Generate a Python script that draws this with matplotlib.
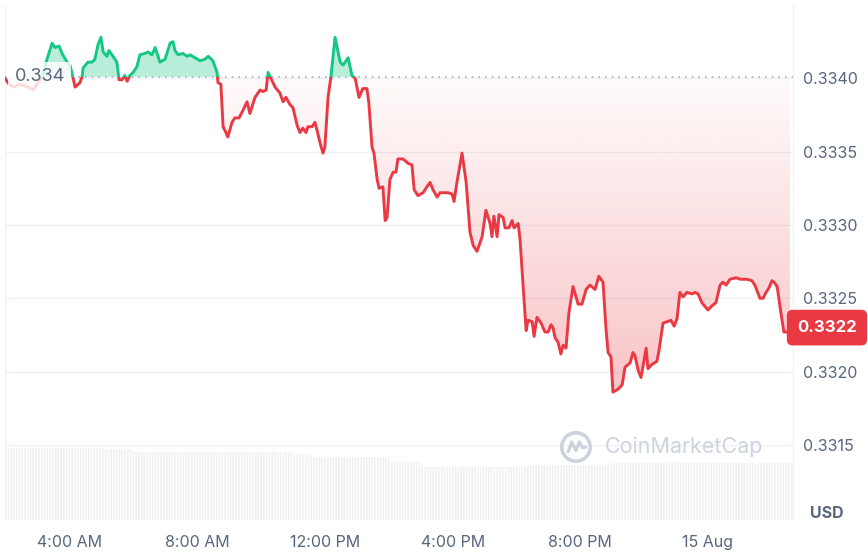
import numpy as np
import matplotlib.pyplot as plt
import matplotlib.transforms as mtransforms
from matplotlib.patches import Rectangle, Circle
from matplotlib.path import Path

# price samples (hours since 00:00 on 14 Aug, USD)
hours = [1.96, 2.09, 2.24, 2.43, 2.68, 2.84, 3.00, 3.15, 3.25, 3.44,
         3.53, 3.66, 3.75, 3.91, 4.00, 4.09, 4.16, 4.31, 4.38, 4.41,
         4.56, 4.69, 4.78, 4.88, 4.97, 5.04, 5.16, 5.22, 5.35, 5.47,
         5.54, 5.63, 5.72, 5.79, 5.88, 5.98, 6.10, 6.19, 6.35, 6.45,
         6.57, 6.67, 6.76, 6.82, 6.98, 7.14, 7.23, 7.29, 7.39, 7.54,
         7.67, 7.76, 7.92, 8.08, 8.23, 8.33, 8.48, 8.61, 8.64, 8.73,
         8.80, 8.89, 8.95, 9.08, 9.17, 9.30, 9.42, 9.55, 9.64, 9.80,
         9.96, 10.05, 10.15, 10.21, 10.30, 10.43, 10.58, 10.68, 10.77, 10.90,
         10.99, 11.12, 11.21, 11.30, 11.40, 11.46, 11.59, 11.68, 11.74, 11.84,
         11.93, 11.99, 12.09, 12.18, 12.31, 12.47, 12.56, 12.72, 12.84, 12.94,
         13.06, 13.18, 13.31, 13.37, 13.47, 13.53, 13.63, 13.69, 13.81, 13.88,
         13.94, 14.03, 14.13, 14.22, 14.28, 14.44, 14.60, 14.72, 14.79, 14.91,
         15.07, 15.19, 15.29, 15.38, 15.51, 15.60, 15.85, 15.98, 16.04, 16.13,
         16.29, 16.42, 16.54, 16.64, 16.76, 16.92, 17.04, 17.17, 17.23, 17.29,
         17.39, 17.45, 17.58, 17.64, 17.76, 17.86, 17.92, 18.05, 18.11, 18.20,
         18.30, 18.36, 18.49, 18.55, 18.64, 18.77, 18.89, 18.99, 19.08, 19.14,
         19.21, 19.30, 19.39, 19.46, 19.55, 19.64, 19.77, 19.93, 20.05, 20.18,
         20.30, 20.46, 20.58, 20.71, 20.80, 20.87, 20.96, 21.02, 21.18, 21.31,
         21.40, 21.56, 21.65, 21.71, 21.81, 21.90, 21.96, 22.06, 22.12, 22.25,
         22.40, 22.47, 22.59, 22.72, 22.84, 22.94, 23.03, 23.12, 23.22, 23.34,
         23.50, 23.59, 23.69, 23.81, 24.00, 24.13, 24.25, 24.38, 24.47,
         24.57, 24.69, 24.88, 25.01, 25.22, 25.38, 25.47, 25.63, 25.73, 25.82,
         25.91, 26.01, 26.07, 26.17, 26.26, 26.38, 26.51, 26.57]

prices = [0.33400, 0.33396, 0.33394, 0.33396, 0.33394, 0.33392, 0.33397, 0.33402, 0.33411, 0.33424,
          0.33421, 0.33422, 0.33417, 0.33411, 0.33409, 0.33401, 0.33394, 0.33397, 0.33401, 0.33407,
          0.33411, 0.33411, 0.33413, 0.33423, 0.33428, 0.33418, 0.33415, 0.33419, 0.33415, 0.33411,
          0.33399, 0.33399, 0.33402, 0.33398, 0.33402, 0.33404, 0.33408, 0.33416, 0.33417, 0.33418,
          0.33416, 0.33421, 0.33415, 0.33411, 0.33413, 0.33424, 0.33425, 0.33419, 0.33416, 0.33417,
          0.33415, 0.33416, 0.33414, 0.33412, 0.33413, 0.33415, 0.33412, 0.33404, 0.33397, 0.33396,
          0.33367, 0.33363, 0.33360, 0.33370, 0.33373, 0.33373, 0.33378, 0.33384, 0.33376, 0.33387,
          0.33392, 0.33391, 0.33392, 0.33404, 0.33400, 0.33394, 0.33390, 0.33384, 0.33387, 0.33382,
          0.33380, 0.33368, 0.33363, 0.33366, 0.33363, 0.33367, 0.33367, 0.33370, 0.33365, 0.33356,
          0.33349, 0.33353, 0.33387, 0.33401, 0.33428, 0.33411, 0.33409, 0.33414, 0.33402, 0.33400,
          0.33387, 0.33393, 0.33393, 0.33383, 0.33353, 0.33349, 0.33331, 0.33325, 0.33326, 0.33303,
          0.33305, 0.33331, 0.33336, 0.33336, 0.33345, 0.33345, 0.33342, 0.33341, 0.33324, 0.33320,
          0.33322, 0.33326, 0.33329, 0.33324, 0.33319, 0.33322, 0.33322, 0.33321, 0.33316, 0.33329,
          0.33349, 0.33329, 0.33295, 0.33286, 0.33282, 0.33292, 0.33310, 0.33301, 0.33292, 0.33306,
          0.33292, 0.33307, 0.33305, 0.33298, 0.33298, 0.33303, 0.33298, 0.33301, 0.33290, 0.33260,
          0.33228, 0.33235, 0.33234, 0.33224, 0.33237, 0.33233, 0.33227, 0.33227, 0.33232, 0.33230,
          0.33223, 0.33220, 0.33212, 0.33218, 0.33216, 0.33240, 0.33258, 0.33246, 0.33246, 0.33256,
          0.33259, 0.33256, 0.33265, 0.33261, 0.33230, 0.33213, 0.33210, 0.33186, 0.33188, 0.33191,
          0.33203, 0.33206, 0.33213, 0.33211, 0.33201, 0.33196, 0.33203, 0.33216, 0.33202, 0.33205,
          0.33207, 0.33215, 0.33233, 0.33234, 0.33235, 0.33231, 0.33236, 0.33254, 0.33251, 0.33254,
          0.33253, 0.33254, 0.33253, 0.33247, 0.33242, 0.33245, 0.33247, 0.33259, 0.33261,
          0.33259, 0.33263, 0.33264, 0.33263, 0.33263, 0.33262, 0.33259, 0.33250, 0.33250, 0.33254,
          0.33257, 0.33262, 0.33261, 0.33258, 0.33244, 0.33227, 0.33227, 0.33230]

open_price = 0.33401
open_label = "0.334"
last_label = "0.3322"

# 24h volume (millions), as steps
vol_edges = [1.96, 5.10, 5.98, 11.02, 11.56, 14.00, 15.04, 18.36, 20.96, 22.72, 23.22, 26.67]
vol_values = [36.1, 35.6, 34.1, 33.1, 31.6, 29.1, 26.6, 27.6, 28.6, 29.1, 28.6]

tick_hours = [4, 8, 12, 16, 20, 24]
tick_labels = ["4:00 AM", "8:00 AM", "12:00 PM", "4:00 PM", "8:00 PM", "15 Aug"]
price_ticks = [0.3315, 0.3320, 0.3325, 0.3330, 0.3335, 0.3340]

GREEN = "#16c784"
RED = "#ea3943"
GRAY = "#58667e"
GRID = "#eff2f5"

plt.rcParams['font.family'] = ['Inter', 'DejaVu Sans']
plt.rcParams['hatch.linewidth'] = 0.8
plt.rcParams['hatch.color'] = 'white'

W, H = 868, 553
fig = plt.figure(figsize=(W / 100, H / 100), dpi=100)


def box(x0, y0, x1, y1):
    return [x0 / W, 1 - y1 / H, (x1 - x0) / W, (y1 - y0) / H]


t = np.array(hours)
p = np.array(prices)
xlim = (1.963, 26.666)
ylim = (0.330988, 0.334500)

# volume strip
axv = fig.add_axes(box(5, 448, 793, 520))
axv.stairs(vol_values, vol_edges, fill=True, facecolor="#eff1f5",
           edgecolor="white", lw=0, hatch="||||||")
axv.set_xlim(*xlim)
axv.set_ylim(0, max(vol_values))
axv.axis("off")

ax = fig.add_axes(box(5, 5, 793, 520))
ax.patch.set_visible(False)

# green area above the open price
ax.fill_between(t, p, open_price, where=p >= open_price, interpolate=True,
                color=GREEN, alpha=0.3, lw=0, zorder=2)

# red area below, fading toward the open line
red_poly = ax.fill_between(t, p, open_price, where=p <= open_price,
                           interpolate=True, facecolor="none", lw=0)
clip = Path.make_compound_path(*red_poly.get_paths())
grad = np.zeros((256, 1, 4))
grad[..., :3] = np.array([234, 57, 67]) / 255
grad[:, 0, 3] = np.linspace(0.30, 0.02, 256)
im = ax.imshow(grad, extent=[xlim[0], xlim[1], p.min(), open_price],
               origin="lower", aspect="auto", zorder=1)
im.set_clip_path(clip, ax.transData)

# price line, green above the open and red below
up = Rectangle((xlim[0], open_price), xlim[1] - xlim[0], 1)
dn = Rectangle((xlim[0], open_price - 1), xlim[1] - xlim[0], 1)
up.set_transform(ax.transData)
dn.set_transform(ax.transData)
l1, = ax.plot(t, p, color=GREEN, lw=2.1, zorder=3, solid_joinstyle="round")
l2, = ax.plot(t, p, color=RED, lw=2.1, zorder=3, solid_joinstyle="round")
l1.set_clip_path(up)
l2.set_clip_path(dn)

ax.axhline(open_price, color="#a6b0c3", lw=1.2, ls=(0, (1, 3)), zorder=2)

ax.set_xlim(*xlim)
ax.set_ylim(*ylim)

ax.set_xticks(tick_hours)
ax.set_xticklabels(tick_labels)
ax.yaxis.tick_right()
ax.set_yticks(price_ticks)
ax.set_yticklabels([f"{v:.4f}" for v in price_ticks])
ax.tick_params(axis="x", length=0, pad=11, labelsize=11.5, labelcolor=GRAY)
ax.tick_params(axis="y", length=0, pad=7, labelsize=11.5, labelcolor=GRAY)
ax.yaxis.grid(True, color=GRID, lw=1)
ax.set_axisbelow(True)
for s in ["top", "bottom"]:
    ax.spines[s].set_visible(False)
for s in ["left", "right"]:
    ax.spines[s].set_color(GRID)

# open price tag
blend = mtransforms.blended_transform_factory(ax.transAxes, ax.transData)
ax.text(0.012, open_price, open_label, transform=blend, ha="left", va="center",
        fontsize=13, color=GRAY, zorder=6,
        bbox=dict(boxstyle="square,pad=0.35", fc="white", ec="none", alpha=0.82))

# current price badge
blend2 = mtransforms.blended_transform_factory(fig.transFigure, ax.transData)
fig.text(827 / W, p[-1], last_label, transform=blend2, ha="center", va="center",
         fontsize=12, color="white", fontweight="bold",
         bbox=dict(boxstyle="round,pad=0.62,rounding_size=0.35", fc=RED, ec="none"))

fig.text(827 / W, 1 - 513 / H, "USD", ha="center", va="center",
         fontsize=11.5, color=GRAY, fontweight="bold")

# watermark
wm = "#cdd3de"
fig.text(605 / W, 1 - 447 / H, "CoinMarketCap", ha="left", va="center",
         fontsize=15.5, color=wm)
lax = fig.add_axes(box(559, 430, 593, 464))
lax.set_xlim(-1.1, 1.1)
lax.set_ylim(-1.1, 1.1)
lax.set_aspect("equal")
lax.axis("off")
lax.add_patch(Circle((0, 0), 0.92, fill=False, ec=wm, lw=2.6))
lax.plot([-0.5, -0.28, 0.0, 0.22, 0.42, 0.62], [-0.3, 0.32, -0.22, 0.32, -0.05, 0.0],
         color=wm, lw=2.4, solid_joinstyle="round", solid_capstyle="round")

fig.savefig("out.png", dpi=100)
